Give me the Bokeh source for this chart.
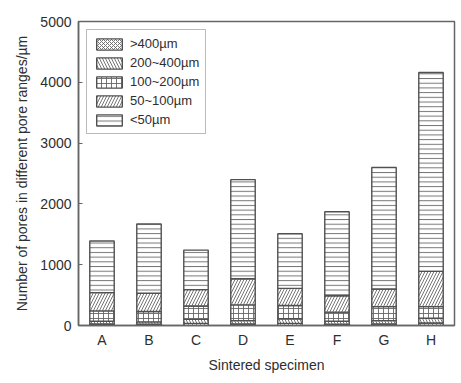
from bokeh.plotting import figure
from bokeh.models import Range1d, Legend, LegendItem, ColumnDataSource
from bokeh.embed import file_html
from bokeh.resources import INLINE

categories = ["A", "B", "C", "D", "E", "F", "G", "H"]
series_names = [">400µm", "200~400µm", "100~200µm", "50~100µm", "<50µm"]
gt400 = [25, 20, 35, 25, 35, 20, 25, 40]
r200_400 = [45, 40, 65, 55, 75, 50, 55, 80]
r100_200 = [170, 170, 220, 260, 220, 150, 230, 190]
r50_100 = [300, 300, 270, 430, 280, 270, 290, 580]
lt50 = [850, 1140, 650, 1630, 900, 1380, 2000, 3270]
y_ticks = [0, 1000, 2000, 3000, 4000, 5000]

keys = ["s0", "s1", "s2", "s3", "s4"]
source = ColumnDataSource(data=dict(cat=categories, s0=gt400, s1=r200_400,
                                    s2=r100_200, s3=r50_100, s4=lt50))

FONT = "Liberation Sans"
TXT = "#2e2e2e"
LINE = "#505050"

p = figure(x_range=categories, y_range=Range1d(0, 5000), width=461, height=383,
           output_backend="svg", toolbar_location=None,
           min_border_left=78, min_border_right=7, min_border_top=21,
           min_border_bottom=58)

patterns = ["diagonal_cross", "left_diagonal_line", "cross",
            "right_diagonal_line", "horizontal_line"]
scales = [4, 6, 5, 6, 4.7]
renderers = p.vbar_stack(keys, x="cat", width=0.52, source=source,
                         fill_color="white", line_color=LINE, line_width=1.4,
                         hatch_pattern=patterns, hatch_scale=scales,
                         hatch_color="#666666", hatch_weight=0.9)

legend = Legend(items=[LegendItem(label=n, renderers=[r]) for n, r in zip(series_names, renderers)],
                location="top_left", margin=8, padding=6, spacing=4,
                glyph_width=32, glyph_height=14, label_height=14,
                label_standoff=5, label_text_font=FONT, label_text_font_size="13px",
                label_text_color=TXT, border_line_color="#777777", border_line_width=1,
                background_fill_alpha=1.0)
p.add_layout(legend)

p.xgrid.visible = False
p.ygrid.visible = False
p.outline_line_color = "#666666"
p.outline_line_width = 1.5

p.yaxis.ticker = y_ticks
p.yaxis.axis_label = "Number of pores in different pore ranges/µm"
p.xaxis.axis_label = "Sintered specimen"
for ax in (p.xaxis[0], p.yaxis[0]):
    ax.axis_line_color = "#666666"
    ax.axis_line_width = 1.5
    ax.major_tick_line_color = "#666666"
    ax.minor_tick_line_color = None
    ax.major_label_text_font = FONT
    ax.major_label_text_font_size = "14px"
    ax.major_label_text_color = TXT
    ax.axis_label_text_font = FONT
    ax.axis_label_text_font_size = "14px"
    ax.axis_label_text_font_style = "normal"
    ax.axis_label_text_color = TXT
p.yaxis.major_tick_in = 4
p.yaxis.major_tick_out = 0
p.yaxis.major_label_standoff = 7
p.yaxis.axis_label_standoff = 7
p.xaxis.major_tick_in = 0
p.xaxis.major_tick_out = 0
p.xaxis.major_label_standoff = 6
p.xaxis.axis_label_standoff = 6

open("out.html", "w").write(file_html(p, INLINE))
